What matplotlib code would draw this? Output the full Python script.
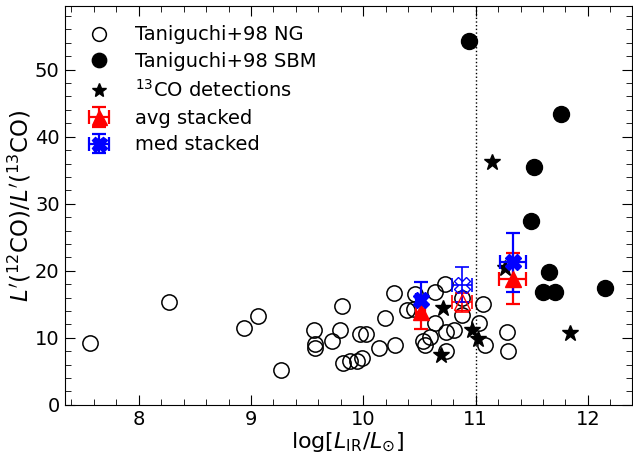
import numpy as np
import matplotlib
matplotlib.use('Agg')
import matplotlib.pyplot as plt
from matplotlib.ticker import MultipleLocator

# Taniguchi+98 normal galaxies
ng_x = [7.57, 8.27, 8.94, 9.06, 9.27, 9.56, 9.57, 9.57, 9.72, 9.81,
        9.79, 9.82, 9.88, 9.94, 9.99, 9.97, 10.02, 10.14, 10.19, 10.27,
        10.28, 10.39, 10.45, 10.46, 10.53, 10.55, 10.59, 10.64, 10.64, 10.73,
        10.74, 10.74, 10.81, 10.88, 10.88, 11.07, 11.03, 11.08, 11.28, 11.29]
ng_y = [9.2, 15.4, 11.5, 13.3, 5.2, 11.1, 9.1, 8.5, 9.6, 14.8,
        11.1, 6.3, 6.6, 6.5, 7.0, 10.6, 10.6, 8.5, 13.0, 16.7,
        9.0, 14.1, 14.3, 16.6, 9.5, 9.0, 10.2, 16.9, 12.2, 18.1,
        8.1, 10.9, 11.1, 15.9, 13.4, 15.1, 12.2, 9.0, 10.8, 8.1]

# Taniguchi+98 starbursts / mergers
sbm_x = [10.94, 11.76, 11.52, 11.49, 11.65, 11.60, 11.71, 12.15]
sbm_y = [54.2, 43.4, 35.5, 27.4, 19.8, 16.9, 16.8, 17.4]

# 13CO detections
det_x = [11.15, 11.84, 11.26, 10.71, 10.69, 10.97, 11.02]
det_y = [36.3, 10.7, 20.4, 14.4, 7.5, 11.1, 9.9]

# stacked points (filled)
avg_x = [10.51, 11.33]
avg_y = [13.8, 18.8]
avg_xerr = [0.04, 0.12]
avg_yerr = [2.5, 3.8]
med_x = [10.51, 11.33]
med_y = [15.6, 21.3]
med_xerr = [0.04, 0.115]
med_yerr = [2.8, 4.4]

# stacked points (hollow)
avg_h_x = [10.88]
avg_h_y = [15.3]
avg_h_xerr = [0.09]
avg_h_yerr = [1.4]
med_h_x = [10.88]
med_h_y = [17.9]
med_h_xerr = [0.09]
med_h_yerr = [2.6]

plt.rcParams['font.size'] = 14

fig = plt.figure(figsize=(6.33, 4.57), dpi=100)
ax = fig.add_axes([0.102, 0.114, 0.896, 0.873])

ax.axvline(11, color='k', ls=':', lw=1)

ax.plot(ng_x, ng_y, 'o', ms=11, mfc='none', mec='k', mew=1.1, label='Taniguchi+98 NG')
ax.plot(sbm_x, sbm_y, 'o', ms=11.5, color='k', label='Taniguchi+98 SBM')
ax.plot(det_x, det_y, '*', ms=12, color='k', label=r'$^{13}$CO detections')

ax.errorbar(avg_h_x, avg_h_y, xerr=avg_h_xerr, yerr=avg_h_yerr, fmt='^', ms=12,
            mfc='none', mec='r', ecolor='r', capsize=5, elinewidth=1.2, capthick=1.2)
ax.errorbar(med_h_x, med_h_y, xerr=med_h_xerr, yerr=med_h_yerr, fmt='X', ms=12,
            mfc='none', mec='b', ecolor='b', capsize=5, elinewidth=1.2, capthick=1.2)
ax.errorbar(avg_x, avg_y, xerr=avg_xerr, yerr=avg_yerr, fmt='^', ms=12,
            color='r', capsize=5, elinewidth=1.6, capthick=1.6, label='avg stacked')
ax.errorbar(med_x, med_y, xerr=med_xerr, yerr=med_yerr, fmt='X', ms=12,
            color='b', capsize=5, elinewidth=1.6, capthick=1.6, label='med stacked')

ax.set_xlim(7.34, 12.39)
ax.set_ylim(0, 59.5)
ax.xaxis.set_major_locator(MultipleLocator(1))
ax.xaxis.set_minor_locator(MultipleLocator(0.2))
ax.yaxis.set_major_locator(MultipleLocator(10))
ax.yaxis.set_minor_locator(MultipleLocator(2))
ax.tick_params(which='both', direction='in', top=True, right=True)
ax.tick_params(which='major', length=7)
ax.tick_params(which='minor', length=4)

ax.set_xlabel(r'$\log[L_{\rm IR}/L_{\odot}]$', fontsize=16, labelpad=1)
ax.set_ylabel(r"$L'(^{12}{\rm CO})/L'(^{13}{\rm CO})$", fontsize=16.5, labelpad=1)

ax.legend(loc='upper left', bbox_to_anchor=(-0.008, 1.0), frameon=False, fontsize=14,
          handletextpad=0.85, labelspacing=0.4, borderaxespad=0.6, markerscale=0.9)

fig.savefig('out.png', dpi=100)
